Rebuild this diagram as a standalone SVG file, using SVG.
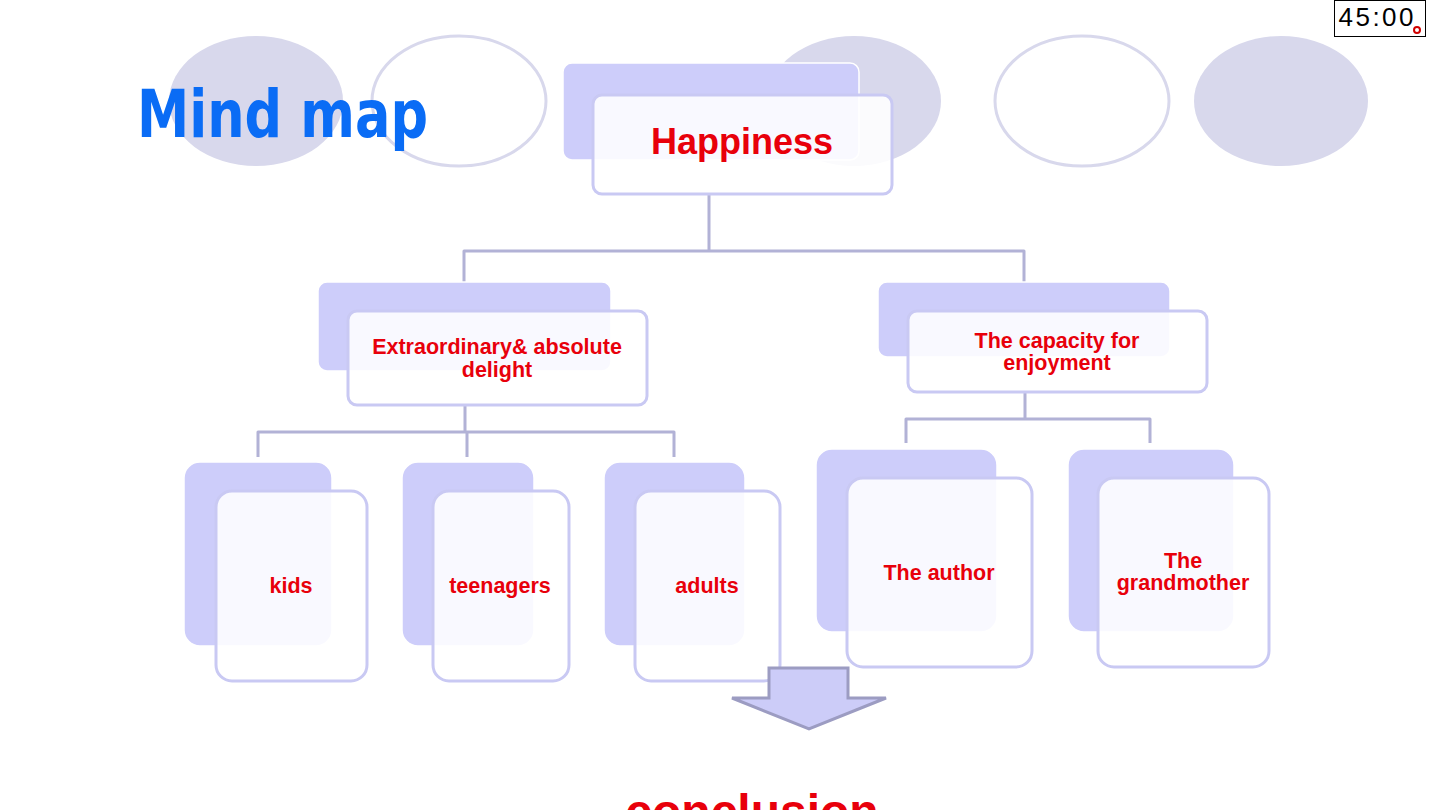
<svg xmlns="http://www.w3.org/2000/svg" width="1440" height="810" viewBox="0 0 1440 810">
<style>
.bgf{fill:#d8d8ec;}
.bgo{fill:none;stroke:#d8d8ec;stroke-width:3;}
.back{fill:#cdcdfa;stroke:#ffffff;stroke-width:1.5;}
.front{fill:#ffffff;fill-opacity:0.88;stroke:#c9c9f3;stroke-width:3;}
.conn{fill:none;stroke:#b2b2d6;stroke-width:3;stroke-linejoin:round;}
.lbl{font-family:"Liberation Sans",Arial,sans-serif;font-weight:bold;fill:#e8000b;text-anchor:middle;}
.s{font-size:21.5px;}
</style>
<rect width="1440" height="810" fill="#ffffff"/>
<g id="background">
<ellipse class="bgf" cx="256" cy="101" rx="87" ry="65"/>
<ellipse class="bgo" cx="459" cy="101" rx="87" ry="65"/>
<ellipse class="bgf" cx="854" cy="101" rx="87" ry="65"/>
<ellipse class="bgo" cx="1082" cy="101" rx="87" ry="65"/>
<ellipse class="bgf" cx="1281" cy="101" rx="87" ry="65"/>
</g>
<text id="title" x="137" y="137" font-family="'DejaVu Sans',sans-serif" font-weight="bold" font-size="66" fill="#0a6cf5" textLength="291" lengthAdjust="spacingAndGlyphs">Mind map</text>
<g id="timer">
<rect x="1334.5" y="0.5" width="91" height="36" fill="#ffffff" stroke="#000000" stroke-width="1"/>
<text x="1376" y="26" font-family="'Liberation Sans',Arial,sans-serif" font-size="26" fill="#000000" text-anchor="middle" textLength="75" lengthAdjust="spacing">45:00</text>
<circle cx="1417" cy="30" r="3" fill="#ffffff" stroke="#d00000" stroke-width="2"/>
</g>
<g id="connectors">
<path class="conn" d="M709 194 V251 M464 282 V251 H1024 V282"/>
<path class="conn" d="M465 405 V432 M258 457 V432 H674 V457 M467 432 V457"/>
<path class="conn" d="M1025 392 V419 M906 443 V419 H1150 V443"/>
</g>
<g id="node-happiness">
<rect class="back" x="563" y="63" width="296" height="97" rx="9"/>
<rect class="front" x="593" y="95" width="299" height="99" rx="9"/>
<text class="lbl" x="742" y="154" font-size="36">Happiness</text>
</g>
<g id="node-delight">
<rect class="back" x="318" y="282" width="293" height="89" rx="9"/>
<rect class="front" x="348" y="311" width="299" height="94" rx="9"/>
<text class="lbl s" x="497" y="354">Extraordinary&amp; absolute</text>
<text class="lbl s" x="497" y="377">delight</text>
</g>
<g id="node-capacity">
<rect class="back" x="878" y="282" width="292" height="75" rx="9"/>
<rect class="front" x="908" y="311" width="299" height="81" rx="9"/>
<text class="lbl s" x="1057" y="348">The capacity for</text>
<text class="lbl s" x="1057" y="370">enjoyment</text>
</g>
<g id="node-kids">
<rect class="back" x="184" y="462" width="148" height="184" rx="16"/>
<rect class="front" x="216" y="491" width="151" height="190" rx="16"/>
<text class="lbl s" x="291" y="593">kids</text>
</g>
<g id="node-teenagers">
<rect class="back" x="402" y="462" width="132" height="184" rx="16"/>
<rect class="front" x="433" y="491" width="136" height="190" rx="16"/>
<text class="lbl s" x="500" y="593">teenagers</text>
</g>
<g id="node-adults">
<rect class="back" x="604" y="462" width="141" height="184" rx="16"/>
<rect class="front" x="635" y="491" width="145" height="190" rx="16"/>
<text class="lbl s" x="707" y="593">adults</text>
</g>
<g id="node-author">
<rect class="back" x="816" y="449" width="181" height="183" rx="16"/>
<rect class="front" x="847" y="478" width="185" height="189" rx="16"/>
<text class="lbl s" x="939" y="580">The author</text>
</g>
<g id="node-grandmother">
<rect class="back" x="1068" y="449" width="166" height="183" rx="16"/>
<rect class="front" x="1098" y="478" width="171" height="189" rx="16"/>
<text class="lbl s" x="1183" y="568">The</text>
<text class="lbl s" x="1183" y="590">grandmother</text>
</g>
<g id="arrow">
<polygon points="769,668 848,668 848,698 886,698 809,729 732,698 769,698" fill="#ccccf8" stroke="#9c9cc2" stroke-width="3" stroke-linejoin="miter"/>
</g>
<text id="conclusion" class="lbl" x="752" y="828" font-size="48">conclusion</text>
</svg>
